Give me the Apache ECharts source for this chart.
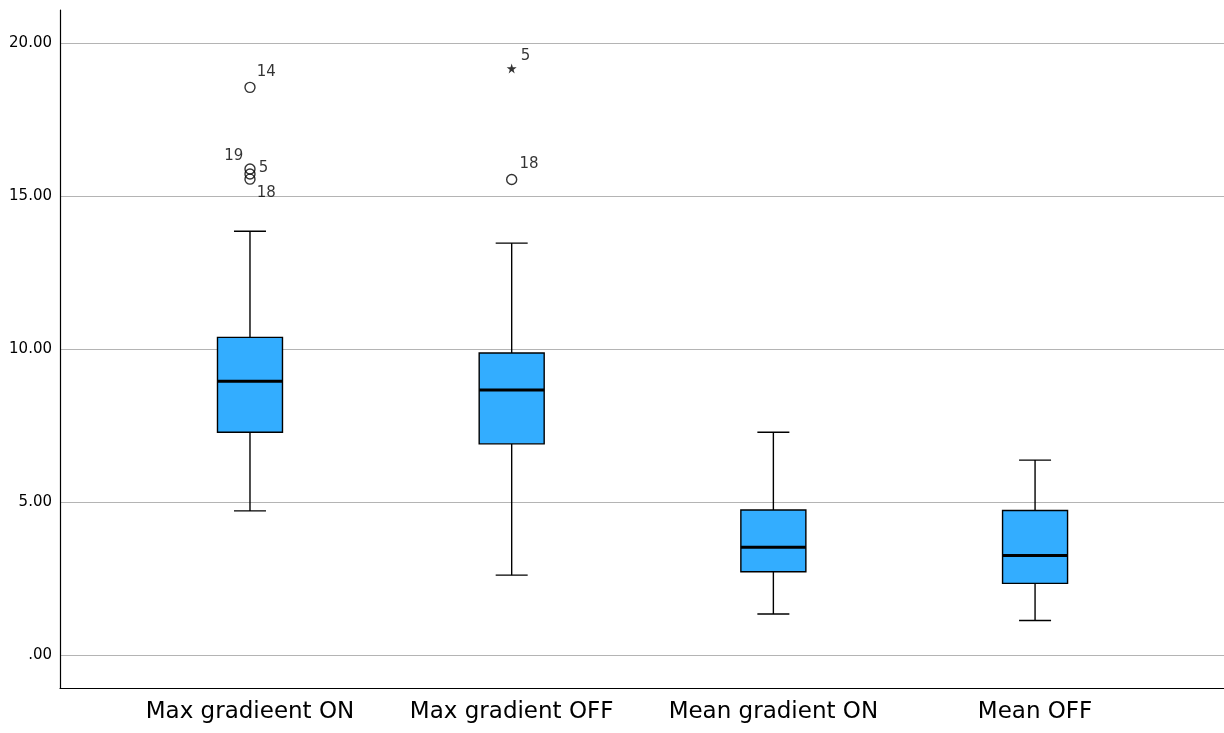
<!DOCTYPE html>
<html>
<head>
<meta charset="utf-8">
<script src="https://cdn.jsdelivr.net/npm/echarts@6/dist/echarts.min.js"></script>
<style>
  html, body { margin: 0; padding: 0; background: #fff; }
  #chart { width: 1224px; height: 733px; }
</style>
</head>
<body>
<div id="chart"></div>
<script>
const categories = ['Max gradieent ON', 'Max gradient OFF', 'Mean gradient ON', 'Mean OFF']
// five-number summaries per category
const whiskerLow = [4.71, 2.61, 1.34, 1.13]
const quart1 = [7.28, 6.90, 2.72, 2.34]
const medians = [8.95, 8.66, 3.52, 3.25]
const quart3 = [10.38, 9.87, 4.74, 4.72]
const whiskerHigh = [13.85, 13.46, 7.28, 6.37]
// outliers: category index, value, case label, kind
const outlierCat = [0, 0, 0, 0, 1, 1]
const outlierVal = [18.55, 15.88, 15.72, 15.55, 19.17, 15.54]
const outlierCase = ['14', '19', '5', '18', '5', '18']
const outlierKind = ['o', 'o', 'o', 'o', '*', 'o']
const yTicks = [0, 5, 10, 15, 20]

const labelPlace = [
  { position: 'right', offset: [1, -15] },
  { position: 'left', offset: [-1, -13] },
  { position: 'right', offset: [3, -6] },
  { position: 'right', offset: [1, 14] },
  { position: 'right', offset: [4, -12] },
  { position: 'right', offset: [2, -15] }
]

const starPath = 'path://M50,0 L61,35 L98,35 L68,57 L79,91 L50,70 L21,91 L32,57 L2,35 L39,35 Z'

const boxData = categories.map((c, i) => [i, whiskerLow[i], quart1[i], medians[i], quart3[i], whiskerHigh[i]])

const outlierData = outlierVal.map((v, i) => ({
  value: [outlierCat[i], v],
  name: outlierCase[i],
  symbol: outlierKind[i] === '*' ? starPath : 'circle',
  symbolSize: outlierKind[i] === '*' ? 10 : 10,
  itemStyle: outlierKind[i] === '*'
    ? { color: '#000', borderWidth: 0 }
    : { color: 'rgba(0,0,0,0)', borderColor: '#000', borderWidth: 1.4 },
  label: {
    show: true,
    formatter: outlierCase[i],
    distance: 0,
    position: labelPlace[i].position,
    offset: labelPlace[i].offset
  }
}))

function renderBox(params, api) {
  const x = api.value(0)
  const pMin = api.coord([x, api.value(1)])
  const pQ1 = api.coord([x, api.value(2)])
  const pMed = api.coord([x, api.value(3)])
  const pQ3 = api.coord([x, api.value(4)])
  const pMax = api.coord([x, api.value(5)])
  const cx = pMin[0]
  const half = 32.5
  const cap = 16
  const line = { stroke: '#000', lineWidth: 1.4 }
  return {
    type: 'group',
    children: [
      { type: 'line', shape: { x1: cx, y1: pQ3[1], x2: cx, y2: pMax[1] }, style: line },
      { type: 'line', shape: { x1: cx, y1: pQ1[1], x2: cx, y2: pMin[1] }, style: line },
      { type: 'line', shape: { x1: cx - cap, y1: pMax[1], x2: cx + cap, y2: pMax[1] }, style: line },
      { type: 'line', shape: { x1: cx - cap, y1: pMin[1], x2: cx + cap, y2: pMin[1] }, style: line },
      {
        type: 'rect',
        shape: { x: cx - half, y: pQ3[1], width: half * 2, height: pQ1[1] - pQ3[1] },
        style: { fill: '#33adff', stroke: '#000', lineWidth: 1.4 }
      },
      { type: 'line', shape: { x1: cx - half, y1: pMed[1], x2: cx + half, y2: pMed[1] }, style: { stroke: '#000', lineWidth: 3 } }
    ]
  }
}

const chart = echarts.init(document.getElementById('chart'))
chart.setOption({
  animation: false,
  textStyle: { fontFamily: 'DejaVu Sans' },
  grid: { left: 60, right: 0, top: 10, bottom: 45 },
  xAxis: {
    type: 'value',
    min: -0.726,
    max: 3.722,
    axisLine: { onZero: false, lineStyle: { color: '#000', width: 1.2 } },
    axisTick: { show: false, customValues: [0, 1, 2, 3] },
    splitLine: { show: false },
    axisLabel: {
      customValues: [0, 1, 2, 3],
      formatter: v => categories[Math.round(v)],
      fontSize: 23,
      color: '#000',
      margin: 13
    }
  },
  yAxis: {
    type: 'value',
    min: -1.078,
    max: 21.078,
    axisLine: { show: true, onZero: false, lineStyle: { color: '#000', width: 1.2 } },
    axisTick: { show: false, customValues: yTicks },
    splitLine: { show: true, lineStyle: { color: '#b4b4b4', width: 1 } },
    axisLabel: {
      customValues: yTicks,
      formatter: v => (v === 0 ? '.00' : v.toFixed(2)),
      fontSize: 15,
      color: '#000',
      margin: 8
    }
  },
  series: [
    {
      type: 'custom',
      renderItem: renderBox,
      data: boxData,
      encode: { x: 0, y: [1, 2, 3, 4, 5] },
      z: 3
    },
    {
      type: 'scatter',
      data: outlierData,
      label: { color: '#000', fontSize: 15 },
      z: 4
    }
  ]
})
</script>
</body>
</html>
